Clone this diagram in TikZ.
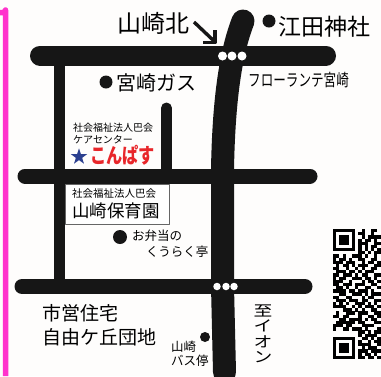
\documentclass[tikz,border=0pt]{standalone}
\usepackage{fontspec}
\setmainfont{Noto Sans CJK JP}
\definecolor{roadblk}{HTML}{161616}
\definecolor{pinkline}{HTML}{FF33CC}
\definecolor{paper}{HTML}{FEFDFC}
\definecolor{starblue}{HTML}{2B3F8F}
\definecolor{redtxt}{HTML}{E8262A}
\newcommand{\px}[1]{\fontsize{#1}{#1}\selectfont}
\newcount\qrc
\newcount\qrr
\def\qrparse#1{\ifx#1\relax\else
  \if#11\fill[black] ({333+\the\qrc*3.17},{229+\the\qrr*3.17}) rectangle ({333+(\the\qrc+1)*3.17+.1},{229+(\the\qrr+1)*3.17+.1});\fi
  \advance\qrc by 1 \expandafter\qrparse\fi}
\tikzset{
  road/.style={line width=#1, draw=roadblk, line cap=round},
  road/.default=15,
  lbl/.style={anchor=west, inner sep=0pt, text=black},
  wdot/.style={circle, fill=white, inner sep=0pt, minimum size=#1},
  bdot/.style={circle, fill=roadblk, inner sep=0pt, minimum size=#1},
}
\begin{document}
\begin{tikzpicture}[x=1pt,y=-1pt,line join=round]
\useasboundingbox (0,0) rectangle (381,376);
\fill[paper] (0,0) rectangle (381,376);
% pink frame
\draw[pinkline, line width=5.5] (0,12.5) -- (3,12.5) arc[start angle=90,end angle=0,radius=2.5] -- (5.5,376);
% roads
\coordinate (t1) at (40,55.5); \coordinate (t2) at (326,55.5);
\coordinate (m1) at (25,176); \coordinate (m2) at (310,176);
\coordinate (b1) at (22,286.5); \coordinate (b2) at (305,286.5);
\draw[road=20] (t1) -- (t2);
\draw[road=15] (m1) -- (m2);
\draw[road=15] (b1) -- (b2);
\draw[draw=roadblk, line width=11] (59.5,55) -- (59.5,286);
\draw[road=11] (166.5,108) -- (166.5,176);
\draw[road=23] (243,21) .. controls (235,42) and (224,80) .. (222.5,170) -- (222.5,286) -- (224.5,372);
% arrow
\draw[line width=3.4, draw=roadblk] (194,22) -- (214,41);
\draw[line width=3.4, draw=roadblk, line cap=butt] (203,42.5) -- (215,42.5) -- (215,30);
% road dots
\foreach \x in {222.5,232,242} \node[wdot=9] at (\x,56) {};
\foreach \x in {217,226,234} \node[wdot=7.5] at (\x,286.5) {};
% box
\node[draw=black!60, line width=.6, fill=white, minimum width=104, minimum height=40, inner sep=0pt, anchor=north west] (box) at (65,184) {};
% dots
\node[bdot=13] (d1) at (269,21) {};
\node[bdot=13] (d2) at (106,82) {};
\node[bdot=14] (d3) at (120,237) {};
\node[bdot=10] (d4) at (205,337) {};
% texts
\node[lbl] at (117,23) {\px{24}山崎北};
\node[lbl] at (278,27) {\px{23}江田神社};
\node[lbl] at (248,80) {\scalebox{.74}[1]{\px{17}フローランテ宮崎}};
\node[lbl] at (116,83) {\px{20}宮崎ガス};
\node[lbl] at (73,128) {\px{10}社会福祉法人巴会};
\node[lbl] at (73,140) {\px{10}ケアセンター};
\node[inner sep=0pt] (star) at (79,156) {\tikz[x=1pt,y=1pt]\fill[starblue] (90:8.5)--(126:3.3)--(162:8.5)--(198:3.3)--(234:8.5)--(270:3.3)--(306:8.5)--(342:3.3)--(18:8.5)--(54:3.3)--cycle;};
\node[lbl, text=redtxt] at (90,155) {\scalebox{.77}[1]{\px{21}\bfseries こんぱす}};
\node[lbl] at (72,194) {\px{10.5}社会福祉法人巴会};
\node[lbl] at (72,211) {\px{17.5}山崎保育園};
\node[lbl] at (132,236) {\px{12.5}お弁当の};
\node[lbl] at (146,252) {\px{12.5}くうらく亭};
\node[lbl] at (42,313) {\px{19}市営住宅};
\node[lbl] at (42,337) {\px{19}自由ケ丘団地};
\node[lbl] at (171,347) {\px{12.5}山崎};
\node[lbl] at (171,361) {\px{12.5}バス停};
\node[inner sep=0pt] (aeon) at (263,334) {\scalebox{1.25}[1]{\parbox{18pt}{\centering\fontsize{15}{15.4}\selectfont\lineskiplimit=-20pt 至\\イ\\オ\\ン}}};
% QR
\foreach \s [count=\r from 0] in {
111111100100110,
100000101100100,
101110100101111,
101110101011010,
101110101110011,
100000101010110,
111111101010101,
000000001101011,
110100111010010,
101101001100110,
111011100101101,
010110101110011,
110010010100110,
011101101011100,
110111010110011,
101100111011010,
111001000101101,
110111011100110,
011010010011001,
111101101110100,
001100111010111,
110011000101100,
011101110110011,
101010011101010,
111100101011101,
000111010100110,
010011101110011,
110110001001101,
001101111010110,
011111101100011,
111011000111100,
100110111010001,
000000001101011,
000000001011110,
111111100110101,
100000101001011,
101110101111001,
101110100101110,
101110101110111,
100000101011010,
111111101101101}{%
  \global\qrr=\numexpr\r\relax \global\qrc=0
  \expandafter\qrparse\s\relax
}
\end{tikzpicture}
\end{document}
